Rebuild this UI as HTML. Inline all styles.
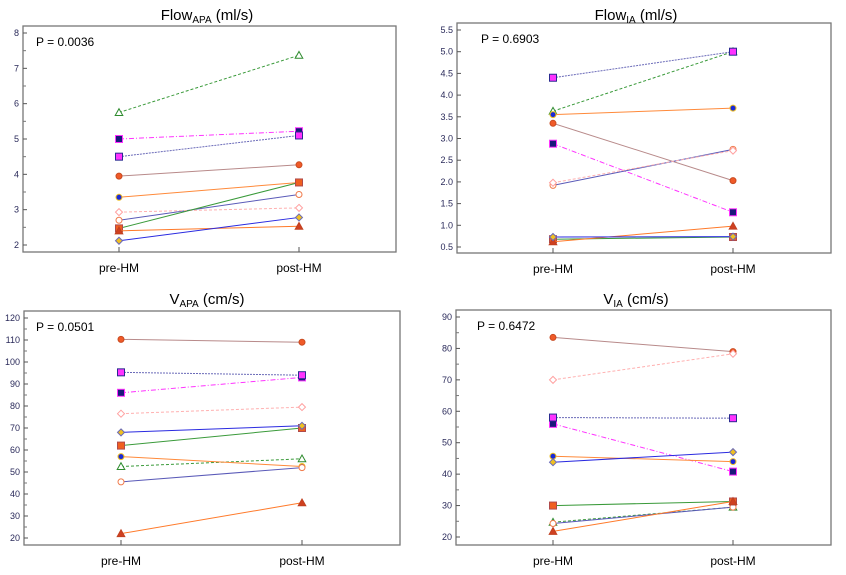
<!DOCTYPE html>
<html><head><meta charset="utf-8">
<style>
body{margin:0;background:#fff;}
svg{display:block;font-family:"Liberation Sans",Arial,sans-serif;}
</style></head>
<body>
<svg id="c" width="846" height="575" viewBox="0 0 846 575"></svg>
<script>
const subjects = ["A","B","C","D","E","F","G","H","I","J"];
const flowApaPre  = [5.75,5.0,4.5,3.95,3.35,2.7,2.93,2.47,2.4,2.12];
const flowApaPost = [7.37,5.22,5.1,4.27,3.77,3.43,3.05,3.77,2.53,2.78];
const flowIaPre   = [3.63,2.88,4.4,3.35,3.55,1.92,1.98,0.68,0.62,0.73];
const flowIaPost  = [5.0,1.3,5.0,2.03,3.7,2.75,2.72,0.73,0.98,0.74];
const vApaPre  = [52.5,86,95.3,110.3,57,45.5,76.5,62,22,68];
const vApaPost = [56,93,94,109,52.5,52,79.5,70,36,71];
const vIaPre   = [24.7,56,58,83.5,45.7,24.3,70,30,21.8,43.8];
const vIaPost  = [29.5,40.8,57.8,79,44,29.5,78.3,31.3,31.3,47];
const ticks1 = ["2","3","4","5","6","7","8"];
const ticks2 = ["0.5","1.0","1.5","2.0","2.5","3.0","3.5","4.0","4.5","5.0","5.5"];
const ticks3 = ["20","30","40","50","60","70","80","90","100","110","120"];
const ticks4 = ["20","30","40","50","60","70","80","90"];
const groups = ["pre-HM","post-HM"];

const styles = {
 A:{line:"#3a9a3a",dash:"3,2",m:"tri",fill:"#fff",stroke:"#2e8b2e"},
 B:{line:"#ff33ff",dash:"5,2,1,2",m:"sq",fill:"#1a1a7a",stroke:"#ff33ff"},
 C:{line:"#6a6ab8",dash:"2,1",m:"sq",fill:"#ff33ff",stroke:"#2a2a90"},
 D:{line:"#b88a8a",dash:"",m:"circ",fill:"#f05a28",stroke:"#c84a20"},
 E:{line:"#ff8a3a",dash:"",m:"circ",fill:"#1a2ad8",stroke:"#f0c020"},
 F:{line:"#5a5ab8",dash:"",m:"circ",fill:"#fff",stroke:"#f07a4a"},
 G:{line:"#ffb0b0",dash:"3,2",m:"dia",fill:"#fff",stroke:"#ffa0a0"},
 H:{line:"#3a9a3a",dash:"",m:"sq",fill:"#f06020",stroke:"#b04a4a"},
 I:{line:"#ff7a2a",dash:"",m:"tri",fill:"#d04020",stroke:"#c04020"},
 J:{line:"#2a2ae0",dash:"",m:"dia",fill:"#f0c020",stroke:"#6a6ab8"}
};

const NS="http://www.w3.org/2000/svg";
const svg=document.getElementById('c');
function el(tag,attrs,parent){const e=document.createElementNS(NS,tag);for(const k in attrs)e.setAttribute(k,attrs[k]);(parent||svg).appendChild(e);return e;}

function panel(cfg){
 const g=el('g',{});
 
 
 const y=v=>cfg.yTop+(cfg.vMax-v)*(cfg.yBot-cfg.yTop)/(cfg.vMax-cfg.vMin);
 const xs=[cfg.xPre,cfg.xPost];
 const box=el('rect',{x:cfg.bx0,y:cfg.by0,width:cfg.bx1-cfg.bx0,height:cfg.by1-cfg.by0,fill:"none",stroke:"#777","stroke-width":1.3},g);
 
 const t=el('text',{x:cfg.tx,y:cfg.ty,"text-anchor":"middle","font-size":15,fill:"#000"},g);
 
 t.innerHTML=cfg.t1+'<tspan font-size="10" dy="3">'+cfg.t2+'</tspan><tspan dy="-3"> '+cfg.t3+'</tspan>';
 const p=el('text',{x:cfg.bx0+cfg.px,y:cfg.by0+20,"font-size":12,fill:"#000"},g);
 p.textContent=cfg.p;
 
 cfg.ticks.forEach(s=>{
  const v=parseFloat(s),yy=y(v);
  const tk=el('line',{x1:cfg.bx0,x2:cfg.bx0+4,y1:yy,y2:yy,stroke:"#555"},g);
  
  const tl=el('text',{x:cfg.bx0-4,y:yy+3,"text-anchor":"end","font-size":9,fill:"#2a2a5a"},g);
  tl.textContent=s;
  
 });
 if(cfg.minor){
  for(let i=0;i<cfg.ticks.length-1;i++){
   const v=(parseFloat(cfg.ticks[i])+parseFloat(cfg.ticks[i+1]))/2,yy=y(v);
   const mt=el('line',{x1:cfg.bx0,x2:cfg.bx0+3,y1:yy,y2:yy,stroke:"#777"},g);
   
  }
 }
 groups.forEach((gname,i)=>{
  const xt=el('line',{x1:xs[i],x2:xs[i],y1:cfg.by1,y2:cfg.by1-5,stroke:"#555"},g);
  
  const xl=el('text',{x:xs[i],y:cfg.by1+20,"text-anchor":"middle","font-size":12,fill:"#000"},g);
  xl.textContent=gname;
  
 });
 subjects.forEach((s,i)=>{
  const st=styles[s];const y0=y(cfg.pre[i]),y1=y(cfg.post[i]);
  const ln=el('line',{x1:xs[0],y1:y0,x2:xs[1],y2:y1,stroke:st.line,"stroke-width":1,"stroke-dasharray":st.dash},g);
  
  
  [[xs[0],y0],[xs[1],y1]].forEach(([cx,cy])=>{
   let m;
   if(st.m==="circ")m=el('circle',{cx:cx,cy:cy,r:3},g);
   else if(st.m==="sq")m=el('rect',{x:cx-3.5,y:cy-3.5,width:7,height:7},g);
   else if(st.m==="tri")m=el('polygon',{points:`${cx},${cy-3.8} ${cx+3.8},${cy+3} ${cx-3.8},${cy+3}`},g);
   else m=el('polygon',{points:`${cx},${cy-3.5} ${cx+3.5},${cy} ${cx},${cy+3.5} ${cx-3.5},${cy}`},g);
   m.setAttribute('fill',st.fill);m.setAttribute('stroke',st.stroke);m.setAttribute('stroke-width',1);
   
   
  });
 });
}

panel({name:"flow-apa-panel",bx0:23,bx1:396,by0:26,by1:252,yTop:33,yBot:245,vMax:8,vMin:2,xPre:119,xPost:299,
 tx:207,ty:20,t1:"Flow",t2:"APA",t3:"(ml/s)",p:"P = 0.0036",px:13,ticks:ticks1,minor:true,pre:flowApaPre,post:flowApaPost});
panel({name:"flow-ia-panel",bx0:457,bx1:831,by0:23,by1:253,yTop:30,yBot:247,vMax:5.5,vMin:0.5,xPre:553,xPost:733,
 tx:636,ty:20,t1:"Flow",t2:"IA",t3:"(ml/s)",p:"P = 0.6903",px:24,ticks:ticks2,minor:false,pre:flowIaPre,post:flowIaPost});
panel({name:"v-apa-panel",bx0:24,bx1:400,by0:311,by1:545,yTop:318,yBot:538,vMax:120,vMin:20,xPre:121,xPost:302,
 tx:207,ty:304,t1:"V",t2:"APA",t3:"(cm/s)",p:"P = 0.0501",px:12,ticks:ticks3,minor:true,pre:vApaPre,post:vApaPost});
panel({name:"v-ia-panel",bx0:456,bx1:831,by0:310,by1:545,yTop:317,yBot:537,vMax:90,vMin:20,xPre:553,xPost:733,
 tx:636,ty:304,t1:"V",t2:"IA",t3:"(cm/s)",p:"P = 0.6472",px:21,ticks:ticks4,minor:true,pre:vIaPre,post:vIaPost});
</script>
</body></html>
